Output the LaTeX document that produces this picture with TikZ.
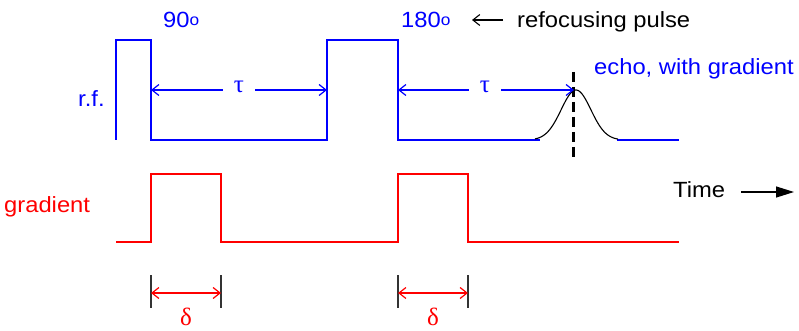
\documentclass[tikz,border=0pt]{standalone}
\usepackage{fontspec}
\setmainfont{Liberation Sans}[FakeStretch=1.08]
\newfontfamily\greekfont{Liberation Serif}
\usetikzlibrary{arrows.meta}
\definecolor{rfblue}{RGB}{0,0,255}
\definecolor{gradred}{RGB}{255,0,0}
\newcommand{\degsym}{{\fontsize{16}{16}\selectfont\raisebox{2pt}{o}}}
\begin{document}
\begin{tikzpicture}[x=1pt,y=-1pt,
  lbl/.style={inner sep=0pt, anchor=base west, font=\fontsize{22}{22}\selectfont},
  greek/.style={inner sep=0pt, font=\greekfont\fontsize{25}{25}\selectfont},
  rfline/.style={rfblue, line width=1.5pt},
  grline/.style={gradred, line width=1.5pt},
  taudim/.style={rfblue, line width=1.2pt, {Straight Barb[length=7pt,width=11pt]}-{Straight Barb[length=7pt,width=11pt]}},
  deltadim/.style={gradred, line width=1.2pt, {Straight Barb[length=7pt,width=11pt]}-{Straight Barb[length=7pt,width=11pt]}},
  tick/.style={black!80, line width=1.3pt},
]
\useasboundingbox (0,0) rectangle (799,331);

% ---------- labels ----------
\node[lbl, rfblue] (ninety) at (163,28) {90\degsym};
\node[lbl, rfblue] (oneeighty) at (401,28) {180\degsym};
\node[lbl] (refoc) at (517,28) {refocusing pulse};
\node[lbl, rfblue] (echo) at (594,75) {echo, with gradient};
\node[lbl, rfblue] (rf) at (78,107) {r.f.};
\node[lbl, gradred] (grad) at (4,212) {gradient};
\node[lbl] (time) at (673,197) {Time};

% ---------- r.f. waveform ----------
\draw[rfline] (116,140) -- (116,40) -- (151,40) -- (151,140) -- (327,140)
  -- (327,40) -- (398,40) -- (398,140) -- (540,140);
\draw[rfline] (617,140) -- (679,140);
\draw[black, line width=1.1pt, domain=535:618, samples=90, smooth]
  plot (\x, {140 - 50*exp(-((\x-576)/21)^2)});
\draw[black, line width=3pt, dash pattern=on 10pt off 5pt] (573,72) -- (573,159);

% tau dimensions
\coordinate (t1a) at (151,90);
\coordinate (t1b) at (327,90);
\coordinate (t2a) at (398,90);
\coordinate (t2b) at (574,90);
\draw[taudim] (t1a) -- (t1b);
\draw[taudim] (t2a) -- (t2b);
\node[greek, rfblue, fill=white, inner xsep=11pt, inner ysep=2pt] (tau1) at (239,87) {τ};
\node[greek, rfblue, fill=white, inner xsep=11pt, inner ysep=2pt] (tau2) at (485,87) {τ};

% refocusing arrow
\coordinate (ra) at (503,20);
\coordinate (rb) at (472,20);
\draw[black, line width=1.1pt, -{Straight Barb[length=7pt,width=11pt]}] (ra) -- (rb);

% ---------- gradient waveform ----------
\draw[grline] (116,242) -- (151,242) -- (151,174) -- (221,174) -- (221,242)
  -- (398,242) -- (398,174) -- (468,174) -- (468,242) -- (679,242);

% time arrow
\coordinate (ta) at (741,192);
\coordinate (tb) at (794,192);
\draw[black, line width=1.2pt, -{Triangle[length=18pt,width=11pt]}] (ta) -- (tb);

% delta dimensions
\foreach \xx in {151,221,398,468} \draw[tick] (\xx,275) -- (\xx,308);
\coordinate (d1a) at (151,293);
\coordinate (d1b) at (221,293);
\coordinate (d2a) at (398,293);
\coordinate (d2b) at (468,293);
\draw[deltadim] (d1a) -- (d1b);
\draw[deltadim] (d2a) -- (d2b);
\node[greek, gradred, anchor=base] (delta1) at (186,325) {δ};
\node[greek, gradred, anchor=base] (delta2) at (433,325) {δ};
\end{tikzpicture}
\end{document}
